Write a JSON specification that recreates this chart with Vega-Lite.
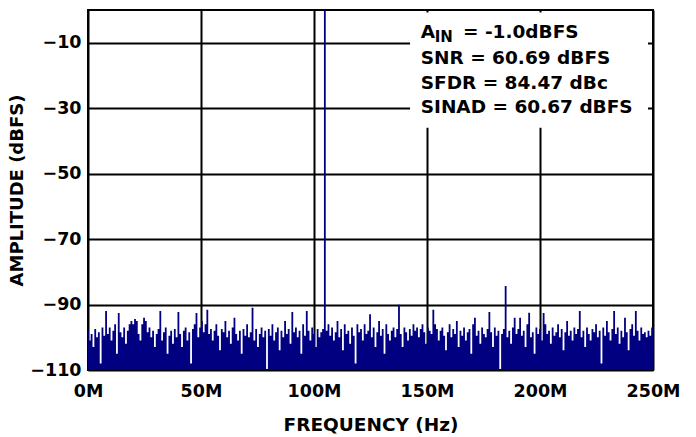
{
  "$schema": "https://vega.github.io/schema/vega-lite/v6.json",
  "width": 565,
  "height": 360,
  "autosize": {"type": "none"},
  "padding": {"left": 88, "top": 10, "right": 43, "bottom": 67},
  "background": "white",
  "datasets": {
    "fft": [
      {"f": 0, "a": -98}, {"f": 0.8, "a": -101}, {"f": 1.6, "a": -99}, {"f": 2.4, "a": -103}, {"f": 3.2, "a": -97.5}, {"f": 4, "a": -100}, {"f": 4.8, "a": -98.5}, {"f": 5.6, "a": -108}, {"f": 6.4, "a": -97}, {"f": 7.2, "a": -99.5},
      {"f": 8, "a": -92}, {"f": 8.8, "a": -99}, {"f": 9.6, "a": -97}, {"f": 10.4, "a": -101}, {"f": 11.2, "a": -98}, {"f": 12, "a": -96}, {"f": 12.8, "a": -105}, {"f": 13.6, "a": -92.6}, {"f": 14.4, "a": -98.5}, {"f": 15.2, "a": -100},
      {"f": 16, "a": -97}, {"f": 16.8, "a": -102}, {"f": 17.6, "a": -98}, {"f": 18.4, "a": -96}, {"f": 19.2, "a": -95}, {"f": 20, "a": -96}, {"f": 20.8, "a": -94.4}, {"f": 21.6, "a": -95}, {"f": 22.4, "a": -99}, {"f": 23.2, "a": -101},
      {"f": 24, "a": -96}, {"f": 24.8, "a": -94}, {"f": 25.6, "a": -95}, {"f": 26.4, "a": -98.5}, {"f": 27.2, "a": -97}, {"f": 28, "a": -100}, {"f": 28.8, "a": -98}, {"f": 29.6, "a": -103}, {"f": 30.4, "a": -99}, {"f": 31.2, "a": -97.5},
      {"f": 32, "a": -92}, {"f": 32.8, "a": -101}, {"f": 33.6, "a": -98.5}, {"f": 34.4, "a": -97}, {"f": 35.2, "a": -105}, {"f": 36, "a": -99.5}, {"f": 36.8, "a": -98}, {"f": 37.6, "a": -102}, {"f": 38.4, "a": -97.5}, {"f": 39.2, "a": -100},
      {"f": 40, "a": -92.3}, {"f": 40.8, "a": -99}, {"f": 41.6, "a": -103}, {"f": 42.4, "a": -98}, {"f": 43.2, "a": -97}, {"f": 44, "a": -101}, {"f": 44.8, "a": -98.5}, {"f": 45.6, "a": -108}, {"f": 46.4, "a": -97.5}, {"f": 47.2, "a": -96},
      {"f": 48, "a": -92.6}, {"f": 48.8, "a": -100}, {"f": 49.6, "a": -97}, {"f": 50.4, "a": -95}, {"f": 51.2, "a": -98.5}, {"f": 52, "a": -96}, {"f": 52.8, "a": -91.6}, {"f": 53.6, "a": -99}, {"f": 54.4, "a": -97.5}, {"f": 55.2, "a": -101},
      {"f": 56, "a": -98}, {"f": 56.8, "a": -96}, {"f": 57.6, "a": -99.5}, {"f": 58.4, "a": -104}, {"f": 59.2, "a": -97.5}, {"f": 60, "a": -98.5}, {"f": 60.8, "a": -95}, {"f": 61.6, "a": -100}, {"f": 62.4, "a": -98}, {"f": 63.2, "a": -102},
      {"f": 64, "a": -97}, {"f": 64.8, "a": -94}, {"f": 65.6, "a": -99}, {"f": 66.4, "a": -101}, {"f": 67.2, "a": -98}, {"f": 68, "a": -105}, {"f": 68.8, "a": -97.5}, {"f": 69.6, "a": -99.5}, {"f": 70.4, "a": -96}, {"f": 71.2, "a": -100},
      {"f": 72, "a": -98.5}, {"f": 72.8, "a": -91}, {"f": 73.6, "a": -101}, {"f": 74.4, "a": -97.5}, {"f": 75.2, "a": -103}, {"f": 76, "a": -99}, {"f": 76.8, "a": -97}, {"f": 77.6, "a": -100}, {"f": 78.4, "a": -98}, {"f": 79.2, "a": -110},
      {"f": 80, "a": -97.5}, {"f": 80.8, "a": -99.5}, {"f": 81.6, "a": -96}, {"f": 82.4, "a": -101}, {"f": 83.2, "a": -98.5}, {"f": 84, "a": -97}, {"f": 84.8, "a": -104}, {"f": 85.6, "a": -98}, {"f": 86.4, "a": -100}, {"f": 87.2, "a": -95},
      {"f": 88, "a": -99}, {"f": 88.8, "a": -97.5}, {"f": 89.6, "a": -102}, {"f": 90.4, "a": -92.3}, {"f": 91.2, "a": -98.5}, {"f": 92, "a": -97}, {"f": 92.8, "a": -100}, {"f": 93.6, "a": -98}, {"f": 94.4, "a": -105}, {"f": 95.2, "a": -96},
      {"f": 96, "a": -99.5}, {"f": 96.8, "a": -92}, {"f": 97.6, "a": -98}, {"f": 98.4, "a": -101}, {"f": 99.2, "a": -97}, {"f": 100, "a": -99}, {"f": 100.8, "a": -103}, {"f": 101.6, "a": -97.5}, {"f": 102.4, "a": -100}, {"f": 103.2, "a": -98.5},
      {"f": 104, "a": -97.5}, {"f": 104.8, "a": 0}, {"f": 105.6, "a": -98}, {"f": 106.4, "a": -96}, {"f": 107.2, "a": -99.5}, {"f": 108, "a": -97}, {"f": 108.8, "a": -101}, {"f": 109.6, "a": -98.5}, {"f": 110.4, "a": -95}, {"f": 111.2, "a": -100},
      {"f": 112, "a": -97.5}, {"f": 112.8, "a": -104}, {"f": 113.6, "a": -96}, {"f": 114.4, "a": -99}, {"f": 115.2, "a": -98}, {"f": 116, "a": -102}, {"f": 116.8, "a": -97}, {"f": 117.6, "a": -99.5}, {"f": 118.4, "a": -108}, {"f": 119.2, "a": -96},
      {"f": 120, "a": -98.5}, {"f": 120.8, "a": -97.5}, {"f": 121.6, "a": -101}, {"f": 122.4, "a": -96}, {"f": 123.2, "a": -99}, {"f": 124, "a": -98}, {"f": 124.8, "a": -93}, {"f": 125.6, "a": -100}, {"f": 126.4, "a": -97}, {"f": 127.2, "a": -103},
      {"f": 128, "a": -98.5}, {"f": 128.8, "a": -95}, {"f": 129.6, "a": -99.5}, {"f": 130.4, "a": -97.5}, {"f": 131.2, "a": -105}, {"f": 132, "a": -96}, {"f": 132.8, "a": -99}, {"f": 133.6, "a": -101}, {"f": 134.4, "a": -98}, {"f": 135.2, "a": -97},
      {"f": 136, "a": -100}, {"f": 136.8, "a": -97.5}, {"f": 137.6, "a": -90.1}, {"f": 138.4, "a": -99}, {"f": 139.2, "a": -103}, {"f": 140, "a": -97}, {"f": 140.8, "a": -98.5}, {"f": 141.6, "a": -101}, {"f": 142.4, "a": -97.5}, {"f": 143.2, "a": -99.5},
      {"f": 144, "a": -96}, {"f": 144.8, "a": -98}, {"f": 145.6, "a": -97}, {"f": 146.4, "a": -100}, {"f": 147.2, "a": -97.5}, {"f": 148, "a": -96}, {"f": 148.8, "a": -98.5}, {"f": 149.6, "a": -102}, {"f": 150.4, "a": -97}, {"f": 151.2, "a": -98},
      {"f": 152, "a": -99}, {"f": 152.8, "a": -91.6}, {"f": 153.6, "a": -96}, {"f": 154.4, "a": -97.5}, {"f": 155.2, "a": -101}, {"f": 156, "a": -98}, {"f": 156.8, "a": -97}, {"f": 157.6, "a": -99.5}, {"f": 158.4, "a": -104}, {"f": 159.2, "a": -98.5},
      {"f": 160, "a": -96}, {"f": 160.8, "a": -100}, {"f": 161.6, "a": -97.5}, {"f": 162.4, "a": -99}, {"f": 163.2, "a": -95}, {"f": 164, "a": -103}, {"f": 164.8, "a": -98}, {"f": 165.6, "a": -99.5}, {"f": 166.4, "a": -97}, {"f": 167.2, "a": -101},
      {"f": 168, "a": -98.5}, {"f": 168.8, "a": -97.5}, {"f": 169.6, "a": -105}, {"f": 170.4, "a": -96}, {"f": 171.2, "a": -94}, {"f": 172, "a": -99.5}, {"f": 172.8, "a": -98}, {"f": 173.6, "a": -102}, {"f": 174.4, "a": -97}, {"f": 175.2, "a": -99},
      {"f": 176, "a": -100}, {"f": 176.8, "a": -97.5}, {"f": 177.6, "a": -92.3}, {"f": 178.4, "a": -98.5}, {"f": 179.2, "a": -103}, {"f": 180, "a": -97}, {"f": 180.8, "a": -99.5}, {"f": 181.6, "a": -98}, {"f": 182.4, "a": -110}, {"f": 183.2, "a": -99},
      {"f": 184, "a": -97.5}, {"f": 184.8, "a": -84.3}, {"f": 185.6, "a": -100}, {"f": 186.4, "a": -98}, {"f": 187.2, "a": -102}, {"f": 188, "a": -97}, {"f": 188.8, "a": -94}, {"f": 189.6, "a": -99}, {"f": 190.4, "a": -97.5}, {"f": 191.2, "a": -94},
      {"f": 192, "a": -99.5}, {"f": 192.8, "a": -98}, {"f": 193.6, "a": -103}, {"f": 194.4, "a": -96}, {"f": 195.2, "a": -92.5}, {"f": 196, "a": -100}, {"f": 196.8, "a": -98.5}, {"f": 197.6, "a": -105}, {"f": 198.4, "a": -97}, {"f": 199.2, "a": -99},
      {"f": 200, "a": -97.5}, {"f": 200.8, "a": -101}, {"f": 201.6, "a": -92.6}, {"f": 202.4, "a": -96}, {"f": 203.2, "a": -99}, {"f": 204, "a": -98}, {"f": 204.8, "a": -102}, {"f": 205.6, "a": -97}, {"f": 206.4, "a": -99.5}, {"f": 207.2, "a": -98.5},
      {"f": 208, "a": -96}, {"f": 208.8, "a": -100}, {"f": 209.6, "a": -97.5}, {"f": 210.4, "a": -104}, {"f": 211.2, "a": -98.5}, {"f": 212, "a": -95}, {"f": 212.8, "a": -99.5}, {"f": 213.6, "a": -98}, {"f": 214.4, "a": -101}, {"f": 215.2, "a": -97},
      {"f": 216, "a": -99}, {"f": 216.8, "a": -97.5}, {"f": 217.6, "a": -92}, {"f": 218.4, "a": -100}, {"f": 219.2, "a": -98}, {"f": 220, "a": -103}, {"f": 220.8, "a": -97}, {"f": 221.6, "a": -99}, {"f": 222.4, "a": -101}, {"f": 223.2, "a": -97.5},
      {"f": 224, "a": -98.5}, {"f": 224.8, "a": -96}, {"f": 225.6, "a": -100}, {"f": 226.4, "a": -98}, {"f": 227.2, "a": -108}, {"f": 228, "a": -97}, {"f": 228.8, "a": -99.5}, {"f": 229.6, "a": -95}, {"f": 230.4, "a": -98.5}, {"f": 231.2, "a": -101},
      {"f": 232, "a": -97.5}, {"f": 232.8, "a": -92}, {"f": 233.6, "a": -99}, {"f": 234.4, "a": -97}, {"f": 235.2, "a": -102}, {"f": 236, "a": -98}, {"f": 236.8, "a": -100}, {"f": 237.6, "a": -94}, {"f": 238.4, "a": -98.5}, {"f": 239.2, "a": -104},
      {"f": 240, "a": -97.5}, {"f": 240.8, "a": -96}, {"f": 241.6, "a": -99.5}, {"f": 242.4, "a": -92}, {"f": 243.2, "a": -98}, {"f": 244, "a": -101}, {"f": 244.8, "a": -97}, {"f": 245.6, "a": -99}, {"f": 246.4, "a": -98.5}, {"f": 247.2, "a": -100},
      {"f": 248, "a": -98}, {"f": 248.8, "a": -99.5}, {"f": 249.6, "a": -97}, {"f": 250, "a": -97}
    ]
  },
  "layer": [
    {
      "data": {"name": "fft"},
      "mark": {"type": "area", "interpolate": "step", "color": "#000080", "opacity": 1},
      "encoding": {
        "x": {
          "field": "f",
          "type": "quantitative",
          "title": "FREQUENCY (Hz)",
          "scale": {"domain": [0, 250], "nice": false},
          "axis": {
            "values": [0, 50, 100, 150, 200, 250],
            "labelExpr": "datum.value + 'M'",
            "labelFlush": false,
            "labelAlign": "center",
            "labelPadding": 12,
            "titlePadding": 16,
            "titleFontSize": 18.5
          }
        },
        "y": {
          "field": "a",
          "type": "quantitative",
          "title": "AMPLITUDE (dBFS)",
          "scale": {"domain": [-110, 0], "nice": false, "zero": false},
          "axis": {
            "values": [-110, -90, -70, -50, -30, -10],
            "labelFlush": false,
            "labelPadding": 7,
            "titlePadding": 3,
            "titleFontSize": 18
          }
        },
        "y2": {"datum": -110}
      }
    },
    {
      "data": {"values": [{}]},
      "mark": {"type": "rect", "color": "white"},
      "encoding": {
        "x": {"datum": 142.5},
        "x2": {"datum": 247.8},
        "y": {"datum": -0.8},
        "y2": {"datum": -36}
      }
    },
    {
      "data": {"values": [{}]},
      "mark": {"type": "text", "text": "A", "align": "left", "baseline": "alphabetic", "font": "DejaVu Sans", "fontWeight": "bold", "fontSize": 18.5, "color": "black"},
      "encoding": {"x": {"datum": 147.2}, "y": {"datum": -8.46}}
    },
    {
      "data": {"values": [{}]},
      "mark": {"type": "text", "text": "IN", "align": "left", "baseline": "alphabetic", "font": "DejaVu Sans", "fontWeight": "bold", "fontSize": 15, "color": "black"},
      "encoding": {"x": {"datum": 153.4}, "y": {"datum": -9.87}}
    },
    {
      "data": {"values": [{}]},
      "mark": {"type": "text", "text": "= -1.0dBFS", "align": "left", "baseline": "alphabetic", "font": "DejaVu Sans", "fontWeight": "bold", "fontSize": 18.5, "color": "black"},
      "encoding": {"x": {"datum": 165.9}, "y": {"datum": -8.46}}
    },
    {
      "data": {"values": [{}]},
      "mark": {"type": "text", "text": "SNR = 60.69 dBFS", "align": "left", "baseline": "alphabetic", "font": "DejaVu Sans", "fontWeight": "bold", "fontSize": 18.5, "color": "black"},
      "encoding": {"x": {"datum": 147.2}, "y": {"datum": -16.6}}
    },
    {
      "data": {"values": [{}]},
      "mark": {"type": "text", "text": "SFDR = 84.47 dBc", "align": "left", "baseline": "alphabetic", "font": "DejaVu Sans", "fontWeight": "bold", "fontSize": 18.5, "color": "black"},
      "encoding": {"x": {"datum": 147.2}, "y": {"datum": -24.15}}
    },
    {
      "data": {"values": [{}]},
      "mark": {"type": "text", "text": "SINAD = 60.67 dBFS", "align": "left", "baseline": "alphabetic", "font": "DejaVu Sans", "fontWeight": "bold", "fontSize": 18.5, "color": "black"},
      "encoding": {"x": {"datum": 147.2}, "y": {"datum": -31.56}}
    }
  ],
  "config": {
    "view": {"stroke": "black", "strokeWidth": 2},
    "axis": {
      "domain": false,
      "ticks": false,
      "grid": true,
      "gridColor": "black",
      "gridWidth": 2,
      "gridOpacity": 1,
      "labelFont": "DejaVu Sans",
      "labelFontWeight": "bold",
      "labelFontSize": 17.5,
      "labelColor": "black",
      "titleFont": "DejaVu Sans",
      "titleFontWeight": "bold",
      "titleColor": "black"
    }
  }
}
